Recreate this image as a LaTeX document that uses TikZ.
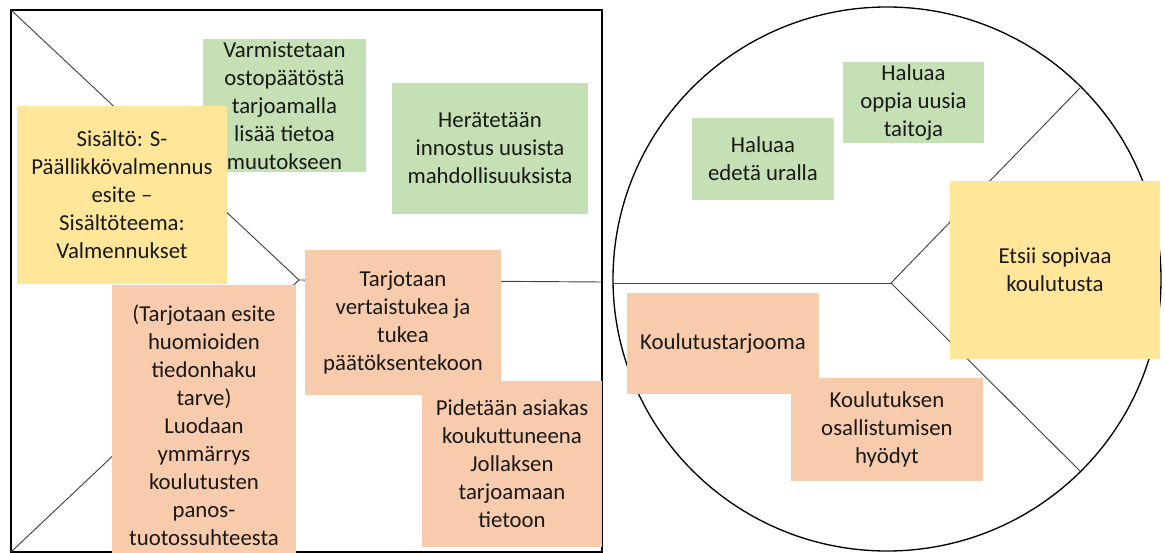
\documentclass[tikz,border=0pt]{standalone}
\usepackage{fontspec}
\setmainfont{Carlito}
\definecolor{notegreen}{HTML}{C5E0B4}
\definecolor{noteyellow}{HTML}{FFE699}
\definecolor{notesalmon}{HTML}{F8CBAD}
\begin{document}
\begin{tikzpicture}[x=0.75pt,y=-0.75pt,
  card/.style={inner sep=0pt, outer sep=0pt, align=center,
    font=\fontsize{17.1}{21}\selectfont, text=black!90},
  sz/.style 2 args={minimum width=#1*0.75pt, minimum height=#2*0.75pt},
  greencard/.style={card, fill=notegreen},
  yellowcard/.style={card, fill=noteyellow},
  salmoncard/.style={card, fill=notesalmon},
  frame/.style={draw=black, line width=1.2pt},
  split/.style={draw=black!75, line width=0.7pt},
  rim/.style={draw=black, line width=1pt}]
\useasboundingbox (0,0) rectangle (1165,553);

% ---- left canvas: square split by a sideways Y ----
\coordinate (LTL) at (11,10);
\coordinate (LTR) at (602,10);
\coordinate (LBR) at (602,552);
\coordinate (LBL) at (11,552);
\coordinate (LJ) at (299,280);
\coordinate (LR) at (602,282);
\draw[frame] (LTL) -- (LTR) -- (LBR) -- (LBL) -- cycle;
\draw[split] (LTL) -- (LJ) -- (LBL);
\draw[split] (LJ) -- (LR);

% ---- right canvas: circle split by a sideways Y ----
\coordinate (RC) at (887,279);
\coordinate (RJ) at (891,283);
\coordinate (RL) at (613,283);
\coordinate (RUp) at (1080,88);
\coordinate (RDn) at (1080,471);
\draw[rim] (RC) ellipse [x radius=274, y radius=272];
\draw[split] (RL) -- (RJ);
\draw[split] (RUp) -- (RJ) -- (RDn);

% ---- notes, left canvas ----
\node[greencard, sz={163}{133}] (varm) at (284.5,105.5)
  {Varmistetaan\\ostopäätöstä\\tarjoamalla\\lisää tietoa\\muutokseen};
\node[greencard, sz={196}{131}] (herat) at (490,148)
  {Herätetään\\innostus uusista\\mahdollisuuksista};
\node[yellowcard, sz={210}{178}] (sisalto) at (122,195)
  {Sisältö: S-\\Päällikkövalmennus\\esite –\\Sisältöteema:\\Valmennukset};
\node[salmoncard, sz={196}{145}] (vertais) at (403,322.5)
  {Tarjotaan\\vertaistukea ja\\tukea\\päätöksentekoon};
\node[salmoncard, sz={184}{280}] (esite) at (204,425)
  {(Tarjotaan esite\\huomioiden\\tiedonhaku\\tarve)\\Luodaan\\ymmärrys\\koulutusten\\panos-\\tuotossuhteesta};
\node[salmoncard, sz={180}{166}] (pidet) at (512,464)
  {Pidetään asiakas\\koukuttuneena\\Jollaksen\\tarjoamaan\\tietoon};

% ---- notes, right canvas ----
\node[greencard, sz={142}{82}] (edeta) at (763,159)
  {Haluaa\\edetä uralla};
\node[greencard, sz={141}{81}] (oppia) at (913.5,102.5)
  {Haluaa\\oppia uusia\\taitoja};
\node[yellowcard, sz={210}{178}] (etsii) at (1055,270)
  {Etsii sopivaa\\koulutusta};
\node[salmoncard, sz={192}{101}] (tarjooma) at (723,343.5)
  {Koulutustarjooma};
\node[salmoncard, sz={192}{103}] (hyodyt) at (887,429.5)
  {Koulutuksen\\osallistumisen\\hyödyt};
\end{tikzpicture}
\end{document}
